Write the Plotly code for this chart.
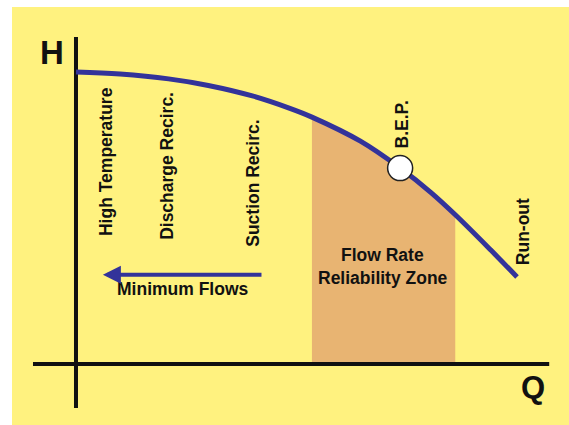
import plotly.graph_objects as go

# Pump curve (flow Q vs head H), in percent of run-out flow / shut-off head
q_curve = [0, 10, 21, 30, 40, 48.5, 53.5, 64.5, 73.5, 80.5, 86, 94, 100]
h_curve = [100, 99.3, 97.65, 95.4, 91.8, 87.55, 84.55, 76.3, 67.1, 58.7, 51.1, 39.1, 29.8]

# Flow-rate reliability zone
zone_q = [53.5, 64.5, 73.5, 80.5, 86]
zone_h = [84.55, 76.3, 67.1, 58.7, 51.1]

# Best efficiency point
bep_q = [73.5]
bep_h = [67.1]

# Axis extents
x_axis_q = [-9.75, 107.3]
x_axis_h = [0, 0]
y_axis_q = [0, 0]
y_axis_h = [-15.1, 112.0]

# Vertical labels
vlabels = ["High Temperature", "Discharge Recirc.", "Suction Recirc.", "B.E.P.", "Run-out"]
vlabel_q = [6.8, 20.6, 40.1, 73.9, 101.4]
vlabel_h = [69.5, 67.8, 62.0, 82.0, 45.2]

FONT = "Arial, 'Liberation Sans', Helvetica, sans-serif"
BLUE = "#33339a"
YELLOW = "#fff27f"
TXT = 17.5

fig = go.Figure()

# Shaded zone
fig.add_trace(go.Scatter(
    x=zone_q, y=zone_h, mode="lines", line=dict(width=0, shape="spline"),
    fill="tozeroy", fillcolor="#e8b472", hoverinfo="skip", showlegend=False))

# Axes
fig.add_trace(go.Scatter(x=x_axis_q, y=x_axis_h, mode="lines",
                         line=dict(color="#111111", width=4), showlegend=False, hoverinfo="skip"))
fig.add_trace(go.Scatter(x=y_axis_q, y=y_axis_h, mode="lines",
                         line=dict(color="#111111", width=4), showlegend=False, hoverinfo="skip"))

# Pump curve
fig.add_trace(go.Scatter(x=q_curve, y=h_curve, mode="lines",
                         line=dict(color=BLUE, width=5, shape="spline"), showlegend=False))

# BEP marker
fig.add_trace(go.Scatter(x=bep_q, y=bep_h, mode="markers",
                         marker=dict(size=25, color="white", line=dict(color="#222222", width=1.5)),
                         showlegend=False))

annotations = []
for t, qx, hy in zip(vlabels, vlabel_q, vlabel_h):
    annotations.append(dict(x=qx, y=hy, xref="x", yref="y", text="<b>" + t + "</b>", showarrow=False,
                            textangle=-90, font=dict(family=FONT, size=TXT, color="#111111")))

annotations += [
    dict(x=-5.4, y=106.8, xref="x", yref="y", text="<b>H</b>", showarrow=False,
         font=dict(family=FONT, size=33, color="#111111")),
    dict(x=103.6, y=-7.9, xref="x", yref="y", text="<b>Q</b>", showarrow=False,
         font=dict(family=FONT, size=31, color="#111111")),
    dict(x=69.6, y=37.3, xref="x", yref="y", text="<b>Flow Rate</b>", showarrow=False,
         font=dict(family=FONT, size=TXT, color="#111111")),
    dict(x=69.6, y=29.5, xref="x", yref="y", text="<b>Reliability Zone</b>", showarrow=False,
         font=dict(family=FONT, size=TXT, color="#111111")),
    dict(x=24.3, y=25.7, xref="x", yref="y", text="<b>Minimum Flows</b>", showarrow=False,
         font=dict(family=FONT, size=TXT, color="#111111")),
    dict(x=6.1, y=30.6, ax=42.4, ay=30.6, xref="x", yref="y", axref="x", ayref="y",
         text="", showarrow=True, arrowhead=2, arrowsize=0.9, arrowwidth=4, arrowcolor=BLUE),
]

fig.update_layout(
    width=569, height=425,
    margin=dict(l=0, r=0, t=0, b=0),
    paper_bgcolor="white", plot_bgcolor="rgba(0,0,0,0)",
    xaxis=dict(range=[-17.23, 111.79], visible=False, fixedrange=True),
    yaxis=dict(range=[-20.89, 124.66], visible=False, fixedrange=True),
    annotations=annotations,
    shapes=[dict(type="rect", xref="paper", yref="paper", x0=12/569, x1=1,
                 y0=0, y1=1 - 7/425, fillcolor=YELLOW, line=dict(width=0), layer="below")],
    showlegend=False,
)

fig.write_html("out.html", config={"displayModeBar": False},
               post_script="document.body.style.margin='0';document.body.style.overflow='hidden';")
